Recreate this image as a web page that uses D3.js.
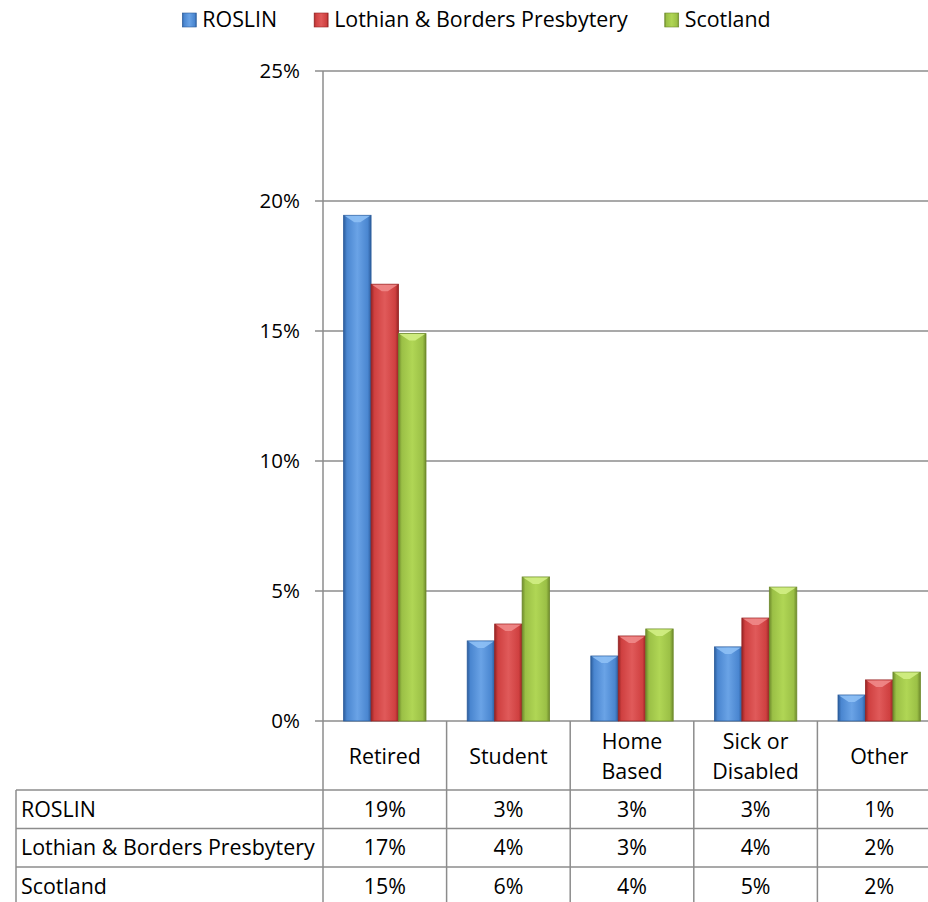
<!DOCTYPE html>
<html><head><meta charset="utf-8">
<script src="https://cdn.jsdelivr.net/npm/d3@7"></script>
<style>body{margin:0;background:#fff}svg{display:block}text{font-family:"Open Sans",Lato,sans-serif;fill:#000}</style>
</head><body>
<script>
const categories = ["Retired","Student","Home Based","Sick or Disabled","Other"];
const categoryLines = [["Retired"],["Student"],["Home","Based"],["Sick or","Disabled"],["Other"]];
const seriesNames = ["ROSLIN","Lothian & Borders Presbytery","Scotland"];
const roslin = [0.1945, 0.0308, 0.025, 0.0285, 0.010];
const lothian = [0.168, 0.0373, 0.0327, 0.0396, 0.0158];
const scotland = [0.149, 0.0554, 0.0354, 0.0515, 0.0188];
const yTicks = [0, 0.05, 0.10, 0.15, 0.20, 0.25];
const seriesValues = [roslin, lothian, scotland];

const W = 928, H = 902;
const FS = 21.4, TFS = 20.5;
const svg = d3.select("body").append("svg").attr("width", W).attr("height", H);
const defs = svg.append("defs");
const palettes = [
  {dark:"#2c5d9c", mid:"#4a86d0", light:"#6aa3e6", top:"#8ec0f5"},
  {dark:"#962424", mid:"#cf4040", light:"#e05a5a", top:"#f08a8a"},
  {dark:"#6e8a2c", mid:"#9bc046", light:"#b0d655", top:"#d2ee84"}
];
palettes.forEach((p,i)=>{
  const g = defs.append("linearGradient").attr("id","g"+i).attr("x1","0").attr("x2","1").attr("y1","0").attr("y2","0");
  g.append("stop").attr("offset","0").attr("stop-color",p.dark);
  g.append("stop").attr("offset","0.12").attr("stop-color",p.mid);
  g.append("stop").attr("offset","0.5").attr("stop-color",p.light);
  g.append("stop").attr("offset","0.88").attr("stop-color",p.mid);
  g.append("stop").attr("offset","1").attr("stop-color",p.dark);
});

const pLeft = 323, pRight = 941, pTop = 71, pBottom = 721;
const x0 = d3.scaleBand().domain(categories).range([pLeft, pRight]);
const x1 = d3.scaleBand().domain(seriesNames).range([0, x0.bandwidth()]).paddingOuter(0.75).paddingInner(0);
const y = d3.scaleLinear().domain([0, 0.25]).range([pBottom, pTop]);
const fmt = d3.format(".0%");
const grid = "#8c8c8c";

// gridlines
svg.append("g").selectAll("line").data(yTicks).join("line")
  .attr("x1", pLeft - 8).attr("x2", pRight).attr("y1", d=>y(d)).attr("y2", d=>y(d))
  .attr("stroke", grid).attr("stroke-width", 1.5);
// y labels
svg.append("g").selectAll("text").data(yTicks).join("text")
  .attr("x", 300).attr("y", d=>y(d)).attr("dy","0.33em").attr("text-anchor","end")
  .attr("font-size", TFS).text(d=>fmt(d));

// bars
const groups = svg.append("g").selectAll("g").data(categories).join("g")
  .attr("transform", c=>`translate(${x0(c)},0)`);
groups.each(function(c, ci){
  const g = d3.select(this);
  seriesNames.forEach((s, si)=>{
    const v = seriesValues[si][ci];
    const bx = x1(s), bw = x1.bandwidth(), by = y(v), bh = y(0) - y(v);
    g.append("rect").attr("x", bx).attr("y", by).attr("width", bw).attr("height", bh)
      .attr("fill", `url(#g${si})`).attr("stroke", palettes[si].dark).attr("stroke-width", 0.8);
    const bev = 5;
    g.append("path")
      .attr("d", `M${bx+1},${by+0.5} L${bx+bw-1},${by+0.5} L${bx+bw/2+3},${by+bev+2} L${bx+bw/2-3},${by+bev+2} Z`)
      .attr("fill", palettes[si].top).attr("opacity", 0.9);
  });
});

// axis line
svg.append("line").attr("x1", pLeft).attr("x2", pLeft).attr("y1", pTop).attr("y2", H)
  .attr("stroke", grid).attr("stroke-width", 1.5);

// data table
const headerBottom = 790, rowH = 38.5, tableLeft = 16;
const rowsY = [headerBottom, headerBottom+rowH, headerBottom+2*rowH, headerBottom+3*rowH];
svg.append("g").selectAll("line").data(categories.slice(1).map(c=>x0(c)).concat([pRight])).join("line")
  .attr("x1", d=>d).attr("x2", d=>d).attr("y1", pBottom).attr("y2", H).attr("stroke", grid).attr("stroke-width", 1.5);
svg.append("line").attr("x1", tableLeft).attr("x2", tableLeft).attr("y1", headerBottom).attr("y2", H)
  .attr("stroke", grid).attr("stroke-width", 1.5);
svg.append("g").selectAll("line").data(rowsY).join("line")
  .attr("x1", tableLeft).attr("x2", pRight).attr("y1", d=>d).attr("y2", d=>d)
  .attr("stroke", grid).attr("stroke-width", 1.5);

// header labels
categoryLines.forEach((lines, ci)=>{
  const cx = x0(categories[ci]) + x0.bandwidth()/2;
  const cy = (pBottom + headerBottom)/2 + 1;
  const t = svg.append("text").attr("x", cx).attr("text-anchor","middle").attr("font-size", FS);
  lines.forEach((ln, li)=>{
    t.append("tspan").attr("x", cx).attr("y", cy + (li - (lines.length-1)/2)*30).attr("dy","0.35em").text(ln);
  });
});
// rows
seriesNames.forEach((s, si)=>{
  const cy = headerBottom + rowH*si + rowH/2;
  svg.append("text").attr("x", tableLeft + 5).attr("y", cy).attr("dy","0.35em").attr("font-size", FS).text(s);
  categories.forEach((c, ci)=>{
    svg.append("text").attr("x", x0(c)+x0.bandwidth()/2).attr("y", cy).attr("dy","0.35em")
      .attr("text-anchor","middle").attr("font-size", FS).text(fmt(seriesValues[si][ci]));
  });
});

// legend
const legend = svg.append("g");
let lx = 0;
seriesNames.forEach((s, si)=>{
  legend.append("rect").attr("x", lx).attr("y", 13).attr("width", 14).attr("height", 14)
    .attr("fill", `url(#g${si})`).attr("stroke", palettes[si].dark).attr("stroke-width", 0.6);
  const t = legend.append("text").attr("x", lx + 20).attr("y", 20).attr("dy","0.35em").attr("font-size", FS).text(s);
  lx += 20 + t.node().getComputedTextLength() + 37;
});
const lw = lx - 37;
legend.attr("transform", `translate(${476.5 - lw/2},0)`);
</script>
</body></html>
